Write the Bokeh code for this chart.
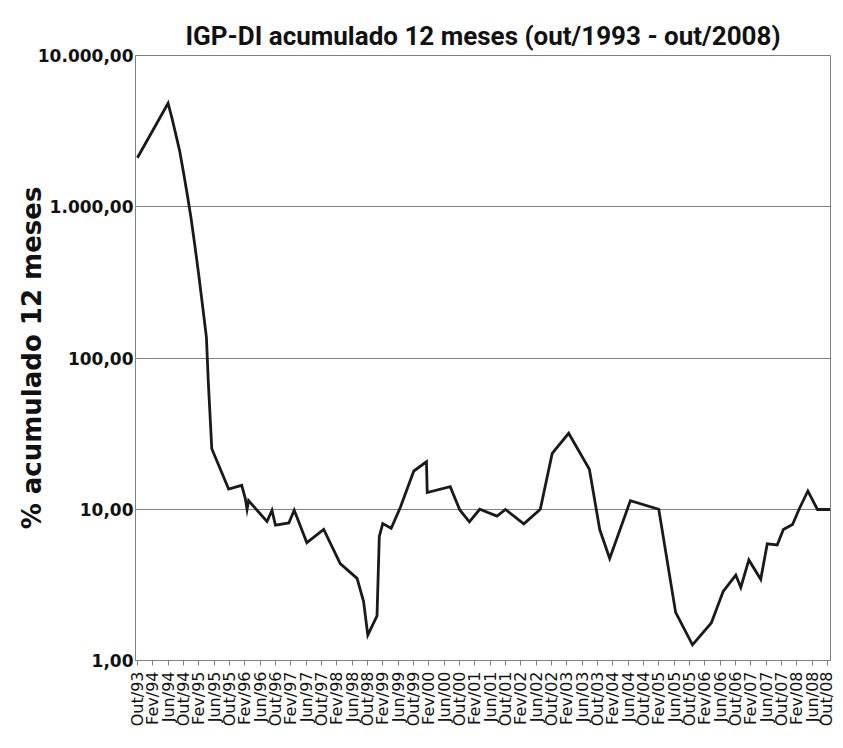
import math
from bokeh.plotting import figure
from bokeh.models import FixedTicker, Range1d, BoxAnnotation
from bokeh.embed import file_html
from bokeh.resources import INLINE

# x tick labels (every 4 months from Out/93 to Out/08)
tick_labels = [
    "Out/93", "Fev/94", "Jun/94", "Out/94", "Fev/95", "Jun/95", "Out/95",
    "Fev/96", "Jun/96", "Out/96", "Fev/97", "Jun/97", "Out/97",
    "Fev/98", "Jun/98", "Out/98", "Fev/99", "Jun/99", "Out/99",
    "Fev/00", "Jun/00", "Out/00", "Fev/01", "Jun/01", "Out/01",
    "Fev/02", "Jun/02", "Out/02", "Fev/03", "Jun/03", "Out/03",
    "Fev/04", "Jun/04", "Out/04", "Fev/05", "Jun/05", "Out/05",
    "Fev/06", "Jun/06", "Out/06", "Fev/07", "Jun/07", "Out/07",
    "Fev/08", "Jun/08", "Out/08",
]
tick_months = [4 * i for i in range(len(tick_labels))]

# series: months since Out/93, IGP-DI accumulated 12 months (%)
months = [0, 8, 9, 10, 11, 12, 13, 14, 15, 16, 17, 18, 18.5, 19.4, 23.8,
          27.2, 28.1, 28.6, 29.0, 33.8, 35.1, 36.0, 39.5, 40.9, 44.2, 48.6,
          52.9, 57.3, 59.0, 60.1, 62.5, 63.1, 64.0, 66.2, 68.6, 72.1, 75.4,
          75.6, 81.6, 84.1, 86.6, 89.3, 93.8, 96.0, 100.8, 105.1, 108.2,
          112.5, 117.9, 120.6, 123.2, 128.6, 136.0, 140.4, 144.8, 149.7,
          152.8, 156.1, 157.4, 159.5, 162.6, 164.3, 166.9, 168.5, 170.9,
          172.6, 174.9, 177.4, 180.7]
igp_di = [2110, 4830, 3870, 3020, 2350, 1700, 1205, 838, 550, 354, 221, 137,
          69, 25.1, 13.6, 14.4, 11.9, 10.0, 11.4, 8.30, 9.83, 7.85, 8.12, 9.86,
          6.01, 7.35, 4.37, 3.49, 2.45, 1.47, 1.97, 6.62, 8.04, 7.48, 10.3,
          17.9, 20.6, 12.9, 14.1, 9.89, 8.26, 10.0, 9.01, 9.96, 8.01, 10.0,
          23.4, 31.8, 18.4, 7.34, 4.72, 11.4, 10.0, 2.08, 1.27, 1.77, 2.86,
          3.67, 3.04, 4.62, 3.44, 5.91, 5.81, 7.34, 7.92, 10.0, 13.2, 9.96,
          9.96]

y_ticks = [1, 10, 100, 1000, 10000]
y_tick_labels = ["1,00", "10,00", "100,00", "1.000,00", "10.000,00"]

p = figure(width=835, height=740, y_axis_type="log",
           x_range=Range1d(-0.5, 180.8), y_range=Range1d(1, 10000),
           output_backend="svg", toolbar_location=None,
           min_border_left=135, min_border_right=5,
           min_border_top=55, min_border_bottom=80,
           title="IGP-DI acumulado 12 meses (out/1993 - out/2008)")

p.title.align = "center"
p.title.text_font = "Roboto"
p.title.text_font_size = "26px"
p.title.text_font_style = "bold"
p.title.text_color = "#111111"

p.background_fill_color = "white"
p.border_fill_color = "white"
p.outline_line_color = "#808080"
p.outline_line_width = 1

# outer frame of the whole picture
p.add_layout(BoxAnnotation(left=6, right=1000, top=8, bottom=1000,
                           left_units="canvas", right_units="canvas",
                           top_units="canvas", bottom_units="canvas",
                           fill_color=None, line_color="#909090", line_width=1,
                           level="overlay"))

p.line(months, igp_di, line_width=2.8, line_color="#1a1a1a", line_join="miter")

# y axis
p.yaxis.ticker = FixedTicker(ticks=y_ticks, minor_ticks=[])
p.yaxis.major_label_overrides = {t: l for t, l in zip(y_ticks, y_tick_labels)}
p.yaxis.major_label_text_font = "DejaVu Sans"
p.yaxis.major_label_text_font_style = "bold"
p.yaxis.major_label_text_font_size = "17px"
p.yaxis.major_label_text_color = "#111111"
p.yaxis.major_label_standoff = 2
p.yaxis.major_tick_out = 0
p.yaxis.major_tick_in = 0
p.yaxis.minor_tick_line_color = None
p.yaxis.axis_line_color = "#808080"
p.yaxis.axis_label = "% acumulado 12 meses"
p.yaxis.axis_label_text_font = "DejaVu Sans"
p.yaxis.axis_label_text_font_style = "bold"
p.yaxis.axis_label_text_font_size = "26px"
p.yaxis.axis_label_text_color = "#111111"
p.yaxis.axis_label_standoff = -12

# x axis
p.xaxis.ticker = FixedTicker(ticks=tick_months, minor_ticks=[])
p.xaxis.major_label_overrides = {m: l for m, l in zip(tick_months, tick_labels)}
p.xaxis.major_label_orientation = math.pi / 2
p.xaxis.major_label_text_font = "DejaVu Sans"
p.xaxis.major_label_text_font_size = "16px"
p.xaxis.major_label_text_color = "#111111"
p.xaxis.major_label_standoff = 6
p.xaxis.major_tick_out = 5
p.xaxis.major_tick_in = 0
p.xaxis.major_tick_line_color = "#808080"
p.xaxis.axis_line_color = "#808080"

# grid
p.xgrid.visible = False
p.ygrid.grid_line_color = "#808080"
p.ygrid.grid_line_width = 1

open("out.html", "w").write(file_html(p, INLINE))
